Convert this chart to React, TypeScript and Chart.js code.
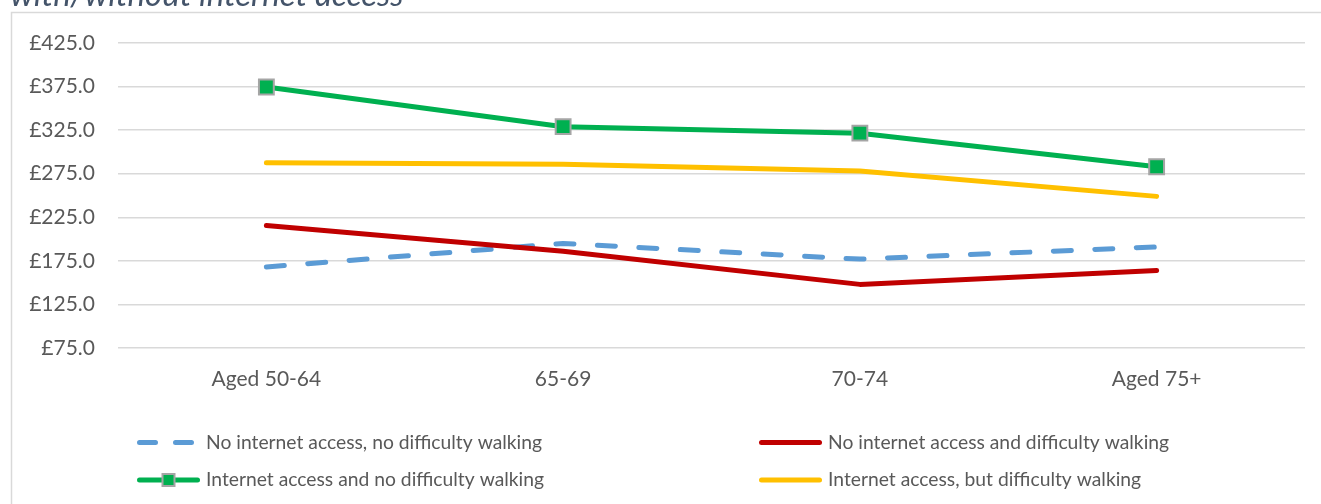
import React, { useEffect, useRef } from 'react';
import { Chart, registerables } from 'chart.js';

Chart.register(...registerables);

// ---- data ----
const categories = ['Aged 50-64', '65-69', '70-74', 'Aged 75+'];
const seriesLabels = [
  'No internet access, no difficulty walking',
  'No internet access and difficulty walking',
  'Internet access and no difficulty walking',
  'Internet access, but difficulty walking',
];
const noInternetNoDifficulty = [168, 195, 177, 191];
const noInternetDifficulty = [215.5, 186, 148, 164];
const internetNoDifficulty = [374.5, 329, 321.5, 283];
const internetDifficulty = [287.5, 286, 278, 249];
const yMin = 75;
const yMax = 425;
const yStep = 50;
const titleText = 'with/without internet access';

const FONT = 'Lato, "Noto Sans", sans-serif';
const TEXT = '#595959';

const decorPlugin = {
  id: 'decor',
  beforeDraw(chart: any) {
    const ctx = chart.ctx;
    ctx.save();
    ctx.fillStyle = '#ffffff';
    ctx.fillRect(0, 0, chart.width, chart.height);
    // frame
    ctx.strokeStyle = '#d9d9d9';
    ctx.lineWidth = 1.5;
    ctx.beginPath();
    ctx.moveTo(11.5, chart.height + 10);
    ctx.lineTo(11.5, 12.5);
    ctx.lineTo(chart.width + 10, 12.5);
    ctx.stroke();
    // title (cut off at top)
    ctx.font = 'italic 33px ' + FONT;
    ctx.fillStyle = '#44546a';
    ctx.textBaseline = 'alphabetic';
    ctx.textAlign = 'left';
    ctx.fillText(titleText, 10, 6);
    ctx.restore();
  },
  afterDraw(chart: any) {
    const ctx = chart.ctx;
    const cols = [137, 759];
    const rows = [442.5, 480];
    const sampleLen = 63;
    chart.data.datasets.forEach((ds: any, i: number) => {
      const col = i % 2;
      const row = Math.floor(i / 2);
      const x0 = cols[col];
      const y = rows[row];
      ctx.save();
      ctx.strokeStyle = ds.borderColor;
      ctx.lineWidth = 5;
      ctx.lineCap = 'round';
      ctx.setLineDash(ds.borderDash && ds.borderDash.length ? [16, 20] : []);
      ctx.beginPath();
      ctx.moveTo(x0 + 2.5, y);
      ctx.lineTo(x0 + sampleLen - 2.5, y);
      ctx.stroke();
      ctx.setLineDash([]);
      if (ds.pointRadius > 0) {
        const s = 12;
        const cx = x0 + sampleLen / 2;
        ctx.fillStyle = ds.pointBackgroundColor;
        ctx.strokeStyle = ds.pointBorderColor;
        ctx.lineWidth = 2;
        ctx.fillRect(cx - s / 2, y - s / 2, s, s);
        ctx.strokeRect(cx - s / 2, y - s / 2, s, s);
      }
      ctx.fillStyle = TEXT;
      ctx.font = '19.3px ' + FONT;
      ctx.textBaseline = 'middle';
      ctx.textAlign = 'left';
      ctx.fillText(ds.label, x0 + sampleLen + 6, y);
      ctx.restore();
    });
  },
};

export default function App() {
  const ref = useRef<HTMLCanvasElement | null>(null);

  useEffect(() => {
    if (!ref.current) return;
    const base = {
      borderWidth: 5,
      tension: 0,
      borderCapStyle: 'round',
      borderJoinStyle: 'round',
      pointRadius: 0,
      pointHoverRadius: 0,
      fill: false,
    };
    const chart = new Chart(ref.current, {
      type: 'line',
      data: {
        labels: categories,
        datasets: [
          {
            ...base,
            label: seriesLabels[0],
            data: noInternetNoDifficulty,
            borderColor: '#5b9bd5',
            borderDash: [18, 23.5],
            order: 4,
          },
          {
            ...base,
            label: seriesLabels[1],
            data: noInternetDifficulty,
            borderColor: '#c00000',
            order: 3,
          },
          {
            ...base,
            label: seriesLabels[2],
            data: internetNoDifficulty,
            borderColor: '#00b050',
            pointStyle: 'rect',
            pointRadius: 10.5,
            pointBackgroundColor: '#00b050',
            pointBorderColor: '#a5a5a5',
            pointBorderWidth: 2,
            order: 2,
          },
          {
            ...base,
            label: seriesLabels[3],
            data: internetDifficulty,
            borderColor: '#ffc000',
            order: 1,
          },
        ] as any,
      },
      options: {
        responsive: false,
        animation: false,
        devicePixelRatio: 1,
        layout: { padding: { top: 43, right: 16, bottom: 106, left: 0 } },
        plugins: {
          legend: { display: false },
          tooltip: { enabled: false },
          title: { display: false },
        },
        scales: {
          x: {
            type: 'category',
            offset: true,
            grid: { display: false, drawTicks: false },
            border: { display: false },
            ticks: {
              color: TEXT,
              font: { family: FONT, size: 21 },
              padding: 19,
              maxRotation: 0,
              autoSkip: false,
            },
            afterFit: (s: any) => {
              s.height = 50;
            },
          },
          y: {
            min: yMin,
            max: yMax,
            ticks: {
              stepSize: yStep,
              callback: (v: any) => '£' + Number(v).toFixed(1),
              color: TEXT,
              font: { family: FONT, size: 21 },
              padding: 23,
            },
            grid: { color: '#d9d9d9', lineWidth: 1.5, drawTicks: false },
            border: { display: false },
            afterFit: (s: any) => {
              s.width = 118;
            },
          },
        },
      } as any,
      plugins: [decorPlugin],
    });
    return () => chart.destroy();
  }, []);

  return (
    <div
      style={{
        position: 'absolute',
        left: 0,
        top: 0,
        width: 1321,
        height: 504,
        overflow: 'hidden',
        background: '#fff',
      }}
    >
      <canvas ref={ref} width={1321} height={504} style={{ display: 'block', width: 1321, height: 504 }} />
    </div>
  );
}
